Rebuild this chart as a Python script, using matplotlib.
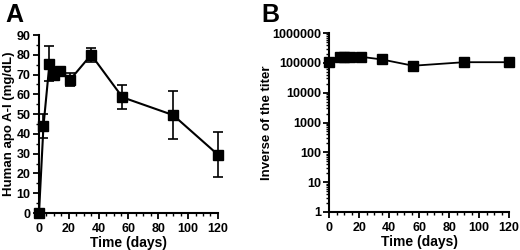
import numpy as np
import matplotlib.pyplot as plt
from matplotlib.ticker import MultipleLocator, LogLocator, NullFormatter

plt.rcParams['font.family'] = ['Liberation Sans', 'DejaVu Sans']
plt.rcParams['font.weight'] = 'bold'

# Panel A: human apo A-I
days_a = [0, 3, 7, 10, 14, 21, 35, 56, 90, 120]
apoa1 = [0, 44, 75.5, 70, 72, 67.5, 80, 58.5, 49.5, 29.5]
apoa1_err = [0, 6, 9, 3, 1.5, 3.5, 3.5, 6, 12.3, 11.5]

# Panel B: inverse of the titer
days_b = [0, 7, 10, 14, 21, 35, 56, 90, 120]
titer = [110000, 160000, 160000, 160000, 160000, 130000, 80000, 105000, 105000]

fig = plt.figure(figsize=(5.2, 2.5), dpi=100)
axA = fig.add_axes([0.075, 0.148, 0.344, 0.712])
axB = fig.add_axes([0.633, 0.152, 0.346, 0.716])

def style(ax):
    for s in ['top', 'right']:
        ax.spines[s].set_visible(False)
    for s in ['left', 'bottom']:
        ax.spines[s].set_linewidth(1.5)
    ax.tick_params(which='major', direction='out', length=4, width=1.3, labelsize=9, pad=2)
    ax.tick_params(axis='x', which='major', pad=3)
    ax.tick_params(which='minor', direction='out', length=2.5, width=1.0)
    for lbl in ax.get_xticklabels() + ax.get_yticklabels():
        lbl.set_fontweight('bold')

axA.errorbar(days_a, apoa1, yerr=apoa1_err, color='black', lw=1.5, marker='s',
             markersize=7.5, capsize=3.5, elinewidth=1.2, capthick=1.2, clip_on=False, zorder=3)
axA.set_xlim(0, 120)
axA.set_ylim(0, 90)
axA.xaxis.set_major_locator(MultipleLocator(20))
axA.xaxis.set_minor_locator(MultipleLocator(5))
axA.yaxis.set_major_locator(MultipleLocator(10))
axA.yaxis.set_minor_locator(MultipleLocator(5))
style(axA)
axA.set_xlabel('Time (days)', fontsize=10, fontweight='bold', labelpad=1)
axA.set_ylabel('Human apo A-I (mg/dL)', fontsize=9.5, fontweight='bold', labelpad=1)

axB.plot(days_b, titer, color='black', lw=1.3, marker='s', markersize=7.5, clip_on=False, zorder=3)
axB.set_yscale('log')
axB.set_xlim(0, 120)
axB.set_ylim(1, 1000000)
axB.xaxis.set_major_locator(MultipleLocator(20))
axB.xaxis.set_minor_locator(MultipleLocator(5))
axB.yaxis.set_minor_locator(LogLocator(base=10, subs=np.arange(2, 10), numticks=10))
axB.yaxis.set_minor_formatter(NullFormatter())
axB.set_yticks([1, 10, 100, 1000, 10000, 100000, 1000000])
axB.set_yticklabels(['1', '10', '100', '1000', '10000', '100000', '1000000'])
style(axB)
axB.set_xlabel('Time (days)', fontsize=10, fontweight='bold', labelpad=1)
axB.set_ylabel('Inverse of the titer', fontsize=9.5, fontweight='bold', labelpad=-1)

fig.text(0.01, 0.99, 'A', fontsize=18, fontweight='bold', va='top', ha='left')
fig.text(0.503, 0.99, 'B', fontsize=18, fontweight='bold', va='top', ha='left')

fig.savefig('out.png', dpi=100, facecolor='white')
